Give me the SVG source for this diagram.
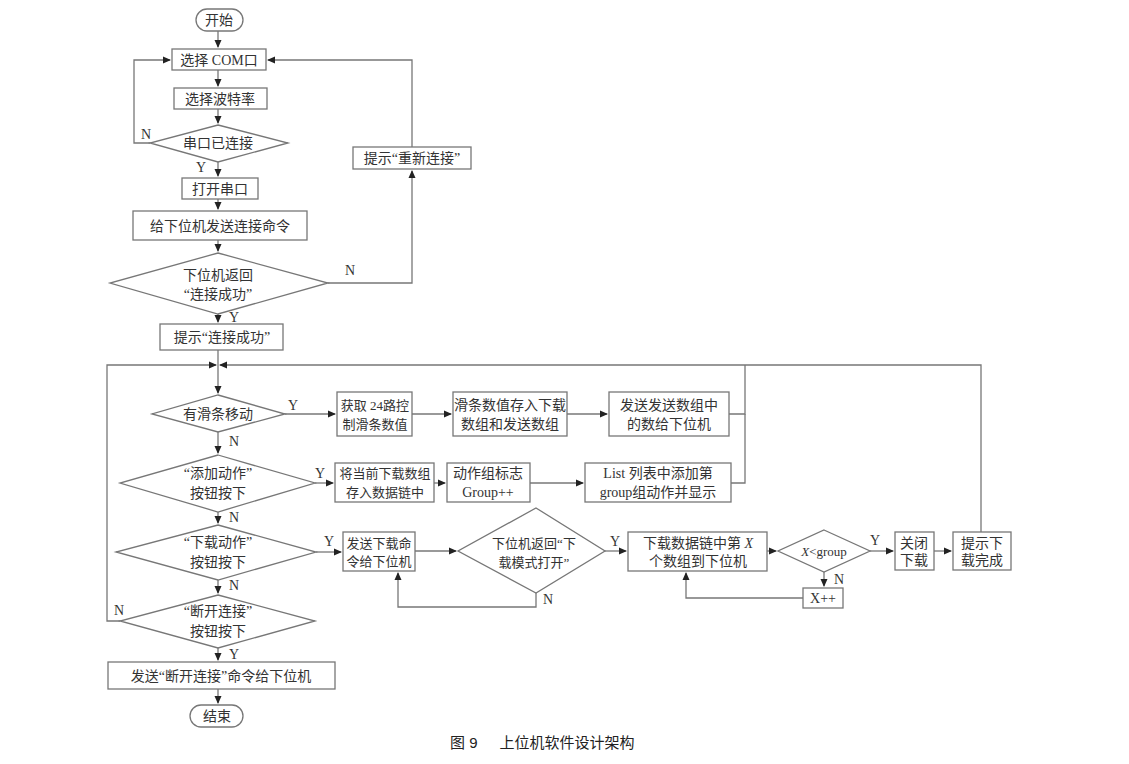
<svg xmlns="http://www.w3.org/2000/svg" width="1129" height="764" viewBox="0 0 1129 764">
<defs>
<marker id="a" markerWidth="8" markerHeight="8" refX="7" refY="4" orient="auto" markerUnits="userSpaceOnUse"><path d="M0,0.5 L8,4 L0,7.5 Z" fill="#222"/></marker>
<style>
.b{fill:#fff;stroke:#777;stroke-width:1.3}
.l{fill:none;stroke:#777;stroke-width:1.3}
.t{font-family:"Liberation Serif","Noto Sans CJK SC",serif;font-size:14px;fill:#333;text-anchor:middle}
.s{font-size:13px}
.c{font-family:"Liberation Sans","Noto Sans CJK SC",sans-serif;font-size:15px;fill:#222}
</style>
</defs>
<rect width="1129" height="764" fill="#fff"/>
<g id="connectors">
<path class="l" d="M218,31V47" marker-end="url(#a)"/>
<path class="l" d="M218,70V86" marker-end="url(#a)"/>
<path class="l" d="M218,109V123" marker-end="url(#a)"/>
<path class="l" d="M150,143H134V60H170" marker-end="url(#a)"/>
<path class="l" d="M218,162V176" marker-end="url(#a)"/>
<path class="l" d="M218,199V209" marker-end="url(#a)"/>
<path class="l" d="M218,240V251" marker-end="url(#a)"/>
<path class="l" d="M328,283H412V171" marker-end="url(#a)"/>
<path class="l" d="M412,147V60H268" marker-end="url(#a)"/>
<path class="l" d="M218,314V322" marker-end="url(#a)"/>
<path class="l" d="M218,350V365"/>
<path class="l" d="M218,365V393" marker-end="url(#a)"/>
<path class="l" d="M120,621H107V365H216" marker-end="url(#a)"/>
<path class="l" d="M981,532V365H220" marker-end="url(#a)"/>
<path class="l" d="M285,414H335" marker-end="url(#a)"/>
<path class="l" d="M412,414H451" marker-end="url(#a)"/>
<path class="l" d="M567,414H607" marker-end="url(#a)"/>
<path class="l" d="M729,414H745V365"/>
<path class="l" d="M731,483H745V414"/>
<path class="l" d="M218,432V453" marker-end="url(#a)"/>
<path class="l" d="M315,483H333" marker-end="url(#a)"/>
<path class="l" d="M434,483H445" marker-end="url(#a)"/>
<path class="l" d="M530,483H583" marker-end="url(#a)"/>
<path class="l" d="M218,512V523" marker-end="url(#a)"/>
<path class="l" d="M316,552H341" marker-end="url(#a)"/>
<path class="l" d="M415,551H456" marker-end="url(#a)"/>
<path class="l" d="M536,593V607H398V573" marker-end="url(#a)"/>
<path class="l" d="M605,551H626" marker-end="url(#a)"/>
<path class="l" d="M767,551H776" marker-end="url(#a)"/>
<path class="l" d="M824,572V586" marker-end="url(#a)"/>
<path class="l" d="M803,598H686V573" marker-end="url(#a)"/>
<path class="l" d="M870,551H893" marker-end="url(#a)"/>
<path class="l" d="M934,551H951" marker-end="url(#a)"/>
<path class="l" d="M218,580V593" marker-end="url(#a)"/>
<path class="l" d="M218,648V660" marker-end="url(#a)"/>
<path class="l" d="M218,689V703" marker-end="url(#a)"/>
</g>
<g id="labels" class="t">
<text x="146" y="139">N</text><text x="201" y="172">Y</text>
<text x="350" y="275">N</text><text x="234" y="322">Y</text>
<text x="293" y="410">Y</text><text x="234" y="446">N</text>
<text x="320" y="478">Y</text><text x="234" y="522">N</text>
<text x="329" y="546">Y</text><text x="234" y="590">N</text>
<text x="548" y="604">N</text><text x="615" y="546">Y</text>
<text x="875" y="545">Y</text><text x="839" y="584">N</text>
<text x="119" y="615">N</text><text x="234" y="659">Y</text>
</g>
<g id="start"><rect class="b" x="196" y="9" width="47" height="22" rx="11"/><text class="t" x="219" y="25">开始</text></g>
<g id="com"><rect class="b" x="172" y="49" width="94" height="21"/><text class="t" x="219" y="65">选择 COM口</text></g>
<g id="baud"><rect class="b" x="174" y="88" width="93" height="21"/><text class="t" x="220" y="104">选择波特率</text></g>
<g id="conn"><path class="b" d="M218,125L288,143L218,162L150,143Z"/><text class="t" x="218" y="148">串口已连接</text></g>
<g id="open"><rect class="b" x="182" y="178" width="76" height="21"/><text class="t" x="220" y="194">打开串口</text></g>
<g id="send"><rect class="b" x="133" y="211" width="174" height="29"/><text class="t" x="220" y="231">给下位机发送连接命令</text></g>
<g id="ret"><path class="b" d="M218,253L328,283L218,314L110,283Z"/><text class="t" x="218" y="280">下位机返回</text><text class="t" x="218" y="299">“连接成功”</text></g>
<g id="retry"><rect class="b" x="353" y="147" width="118" height="22"/><text class="t" x="412" y="163">提示“重新连接”</text></g>
<g id="ok"><rect class="b" x="160" y="324" width="123" height="26"/><text class="t" x="222" y="342">提示“连接成功”</text></g>
<g id="slide"><path class="b" d="M218,395L285,414L218,432L152,414Z"/><text class="t" x="218" y="419">有滑条移动</text></g>
<g id="b1"><rect class="b" x="337" y="392" width="75" height="44"/><text class="t s" x="375" y="410">获取 24路控</text><text class="t s" x="375" y="429">制滑条数值</text></g>
<g id="b2"><rect class="b" x="453" y="392" width="114" height="44"/><text class="t" x="510" y="410">滑条数值存入下载</text><text class="t" x="510" y="429">数组和发送数组</text></g>
<g id="b3"><rect class="b" x="609" y="392" width="120" height="44"/><text class="t" x="669" y="410">发送发送数组中</text><text class="t" x="669" y="429">的数给下位机</text></g>
<g id="add"><path class="b" d="M218,455L315,483L218,512L120,483Z"/><text class="t" x="218" y="478">“添加动作”</text><text class="t" x="218" y="498">按钮按下</text></g>
<g id="c1"><rect class="b" x="335" y="463" width="99" height="39"/><text class="t s" x="385" y="478">将当前下载数组</text><text class="t s" x="385" y="497">存入数据链中</text></g>
<g id="c2"><rect class="b" x="447" y="463" width="83" height="39"/><text class="t" x="488" y="478">动作组标志</text><text class="t" x="488" y="497">Group++</text></g>
<g id="c3"><rect class="b" x="585" y="463" width="146" height="39"/><text class="t" x="658" y="478">List 列表中添加第</text><text class="t" x="658" y="497">group组动作并显示</text></g>
<g id="dl"><path class="b" d="M218,525L316,552L218,580L116,552Z"/><text class="t" x="218" y="547">“下载动作”</text><text class="t" x="218" y="567">按钮按下</text></g>
<g id="d1"><rect class="b" x="343" y="532" width="72" height="39"/><text class="t s" x="379" y="548">发送下载命</text><text class="t s" x="379" y="566">令给下位机</text></g>
<g id="d2"><path class="b" d="M536,508L605,551L536,593L458,551Z"/><text class="t s" x="534" y="548">下位机返回“下</text><text class="t s" x="534" y="567">载模式打开”</text></g>
<g id="d3"><rect class="b" x="628" y="532" width="139" height="39"/><text class="t" x="698" y="548">下载数据链中第 <tspan font-style="italic">X</tspan></text><text class="t" x="698" y="566">个数组到下位机</text></g>
<g id="d4"><path class="b" d="M824,530L870,551L824,572L778,551Z"/><text class="t s" x="824" y="556"><tspan font-style="italic">X</tspan>&lt;group</text></g>
<g id="d5"><rect class="b" x="803" y="588" width="40" height="20"/><text class="t" x="823" y="603">X++</text></g>
<g id="d6"><rect class="b" x="895" y="532" width="39" height="38"/><text class="t" x="914" y="548">关闭</text><text class="t" x="914" y="565">下载</text></g>
<g id="d7"><rect class="b" x="953" y="532" width="58" height="38"/><text class="t" x="982" y="548">提示下</text><text class="t" x="982" y="565">载完成</text></g>
<g id="disc"><path class="b" d="M218,595L315,621L218,648L120,621Z"/><text class="t" x="218" y="616">“断开连接”</text><text class="t" x="218" y="636">按钮按下</text></g>
<g id="senddisc"><rect class="b" x="108" y="662" width="227" height="27"/><text class="t" x="221" y="681">发送“断开连接”命令给下位机</text></g>
<g id="end"><rect class="b" x="190" y="705" width="53" height="22" rx="11"/><text class="t" x="217" y="721">结束</text></g>
<text class="c" x="450" y="748">图 9<tspan dx="22">上位机软件设计架构</tspan></text>
</svg>
